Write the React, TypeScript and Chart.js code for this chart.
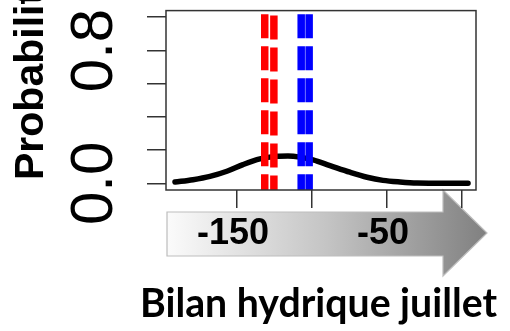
import React, { useEffect, useRef } from 'react';
import { Chart, registerables } from 'chart.js';

Chart.register(...registerables);

// ---- data ----
const curveX = [-191.3, -179.3, -168, -156.7, -146, -134.7, -123.3, -116, -108, -99.3, -88, -74.7, -63.3, -52.7, -41.3, -30, -14.7, 4];
const curveY = [0.008, 0.022, 0.042, 0.073, 0.113, 0.147, 0.163, 0.165, 0.158, 0.141, 0.107, 0.067, 0.037, 0.018, 0.008, 0.002, 0.001, 0];
const redLineX = [-131.5, -125.4];
const blueLineX = [-107.2, -101.9];
const xTicks = [-150, -100, -50, 0];
const xTickLabels = ['-150', '', '-50', ''];
const yTicks = [0, 0.2, 0.4, 0.6, 0.8, 1.0];
const yTickLabels = ['0.0', '', '', '', '0.8', ''];
const xTitle = 'Bilan hydrique juillet';
const yTitle = 'Probabilité';

const X_MIN = -197.3;
const X_MAX = 9.3;
const Y_MIN = -0.04;
const Y_MAX = 1.04;

const labelFor = (ticks: number[], labels: string[], v: number) => {
  const i = ticks.findIndex((t) => Math.abs(t - v) < 1e-9);
  return i >= 0 ? labels[i] : '';
};

const decorPlugin = {
  id: 'decor',
  beforeDraw(chart: any) {
    const ctx = chart.ctx as CanvasRenderingContext2D;
    ctx.save();
    const g = ctx.createLinearGradient(167, 0, 487, 0);
    g.addColorStop(0, '#fbfbfb');
    g.addColorStop(0.5, '#c4c4c4');
    g.addColorStop(1, '#808080');
    ctx.beginPath();
    ctx.moveTo(167, 212);
    ctx.lineTo(443, 212);
    ctx.lineTo(443, 190);
    ctx.lineTo(487, 233);
    ctx.lineTo(443, 276);
    ctx.lineTo(443, 256);
    ctx.lineTo(167, 256);
    ctx.closePath();
    ctx.fillStyle = g;
    ctx.fill();
    ctx.strokeStyle = '#bdbdbd';
    ctx.lineWidth = 1.2;
    ctx.stroke();
    ctx.restore();
  },
  afterDraw(chart: any) {
    const ctx = chart.ctx as CanvasRenderingContext2D;
    const a = chart.chartArea;
    ctx.save();
    // plot box
    ctx.strokeStyle = '#333';
    ctx.lineWidth = 1.5;
    ctx.strokeRect(a.left, a.top, a.right - a.left, a.bottom - a.top);
    // y title (rotated, runs off the top)
    ctx.fillStyle = '#000';
    ctx.font = 'bold 41px "Liberation Sans", Arial, sans-serif';
    ctx.textAlign = 'left';
    ctx.textBaseline = 'alphabetic';
    ctx.translate(43, 180);
    ctx.rotate(-Math.PI / 2);
    ctx.fillText(yTitle, 0, 0);
    ctx.restore();
    // x title
    ctx.save();
    ctx.fillStyle = '#000';
    ctx.font = 'bold 100px Lato, "Open Sans", sans-serif';
    const w = ctx.measureText(xTitle).width;
    const size = (100 * 357) / w;
    ctx.font = `bold ${size}px Lato, "Open Sans", sans-serif`;
    ctx.textAlign = 'center';
    ctx.textBaseline = 'alphabetic';
    ctx.fillText(xTitle, 318.5, 317);
    ctx.restore();
  },
};

export default function App() {
  const ref = useRef<HTMLCanvasElement>(null);

  useEffect(() => {
    if (!ref.current) return;
    const vline = (x: number, color: string, offset: number, order: number) => ({
      data: [
        { x, y: Y_MAX },
        { x, y: Y_MIN },
      ],
      borderColor: color,
      borderWidth: 7.5,
      borderDash: [24, 8],
      borderDashOffset: offset,
      pointRadius: 0,
      order,
    });
    const chart = new Chart(ref.current, {
      type: 'line',
      data: {
        datasets: [
          vline(redLineX[0], '#ff0000', 28.3, 1),
          vline(redLineX[1], '#ff0000', 27, 2),
          vline(blueLineX[0], '#0000ff', 28.3, 3),
          vline(blueLineX[1], '#0000ff', 28.3, 4),
          {
            data: curveX.map((x, i) => ({ x, y: curveY[i] })),
            borderColor: '#000',
            borderWidth: 5.5,
            pointRadius: 0,
            cubicInterpolationMode: 'monotone',
            borderCapStyle: 'round',
            order: 5,
          },
        ],
      } as any,
      options: {
        animation: false,
        responsive: false,
        layout: { padding: { top: 9, right: 34, bottom: 0, left: 0 } },
        plugins: { legend: { display: false }, tooltip: { enabled: false }, title: { display: false } },
        scales: {
          x: {
            type: 'linear',
            min: X_MIN,
            max: X_MAX,
            afterBuildTicks: (s: any) => {
              s.ticks = xTicks.map((v) => ({ value: v }));
            },
            afterFit: (s: any) => {
              s.height = 141;
            },
            border: { display: false },
            grid: { drawOnChartArea: false, drawTicks: true, tickLength: 18, color: '#333', lineWidth: 1.5 },
            ticks: {
              autoSkip: false,
              maxRotation: 0,
              minRotation: 0,
              padding: 4,
              labelOffset: -4,
              color: '#000',
              font: { family: '"Liberation Sans", Arial, sans-serif', size: 36, weight: 'bold' },
              callback: (v: any) => labelFor(xTicks, xTickLabels, Number(v)),
            },
          },
          y: {
            type: 'linear',
            min: Y_MIN,
            max: Y_MAX,
            afterBuildTicks: (s: any) => {
              s.ticks = yTicks.map((v) => ({ value: v }));
            },
            afterFit: (s: any) => {
              s.width = 166;
            },
            border: { display: false },
            grid: { drawOnChartArea: false, drawTicks: true, tickLength: 19, color: '#333', lineWidth: 1.5 },
            ticks: {
              autoSkip: false,
              minRotation: 90,
              maxRotation: 90,
              crossAlign: 'center',
              padding: 10,
              color: '#000',
              font: (c: any) => {
                const lab = c && c.tick ? labelFor(yTicks, yTickLabels, c.tick.value) : '0.0';
                return { family: '"Liberation Sans", Arial, sans-serif', size: lab ? 60 : 1 };
              },
              callback: (v: any) => labelFor(yTicks, yTickLabels, Number(v)),
            },
          },
        },
      } as any,
      plugins: [decorPlugin],
    });
    return () => chart.destroy();
  }, []);

  return (
    <div style={{ position: 'fixed', left: 0, top: 0, width: 510, height: 331, background: '#fff' }}>
      <canvas ref={ref} width={510} height={331} style={{ display: 'block', width: 510, height: 331 }} />
    </div>
  );
}
